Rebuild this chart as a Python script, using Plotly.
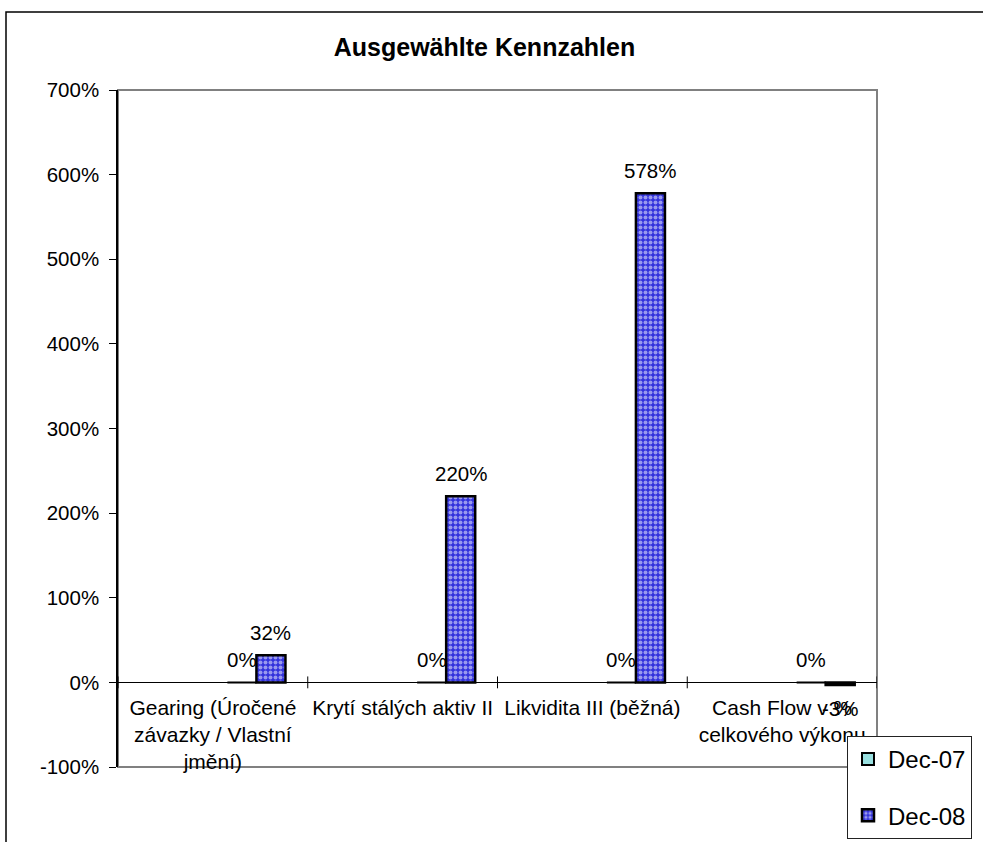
import plotly.graph_objects as go

categories = ["Gearing (Úročené závazky / Vlastní jmění)", "Krytí stálých aktiv II",
              "Likvidita III (běžná)", "Cash Flow v % celkového výkonu"]
tick_text = ["Gearing (Úročené<br>závazky / Vlastní<br>jmění)", "Krytí stálých aktiv II",
             "Likvidita III (běžná)", "Cash Flow v %<br>celkového výkonu"]
dec07 = [0.0, 0.0, 0.0, 0.0]
dec08 = [0.32, 2.20, 5.78, -0.03]
series_names = ["Dec-07", "Dec-08"]
y_ticks = [-1, 0, 1, 2, 3, 4, 5, 6, 7]
y_tick_text = [f"{v * 100}%" for v in y_ticks]

W, H = 983, 842
L, T = 118, 90
R = W - 877
B = H - 767
pw, ph = W - L - R, H - T - B

FONT = "Liberation Sans, Arial, sans-serif"
bw = 0.153  # bar width in category units
idx = list(range(len(categories)))

fig = go.Figure()
fig.add_trace(go.Bar(
    x=idx, y=dec07, name=series_names[0], width=bw, offset=0.5 * bw,
    marker=dict(color="#99e0e0", line=dict(color="black", width=2)),
    legendgroup="a",
))
fig.add_trace(go.Bar(
    x=idx, y=dec08, name=series_names[1], width=bw, offset=1.5 * bw,
    marker=dict(color="#3232dc", line=dict(color="black", width=2.5),
                pattern=dict(shape=".", fgcolor="white",
                             size=5, solidity=0.5, fillmode="overlay")),
    legendgroup="b",
))

# data labels
for vals, c in ((dec07, 1.0 * bw), (dec08, 2.0 * bw)):
    for i, v in enumerate(vals):
        fig.add_annotation(x=i + c, y=v, text=f"{round(v * 100):.0f}%", showarrow=False,
                           yshift=23 if v >= 0 else -24,
                           font=dict(family=FONT, size=20.5, color="black"))

# plot area frame
fig.add_shape(type="rect", xref="paper", yref="paper", x0=0, x1=1, y0=0, y1=1,
              line=dict(color="#808080", width=2), layer="below")
# outer chart border
fig.add_shape(type="rect", xref="paper", yref="paper",
              x0=(6 - L) / pw, x1=(1000 - L) / pw,
              y0=-(900 - (H - B)) / ph, y1=((H - B) - 12) / ph,
              line=dict(color="black", width=1.5), layer="below")

fig.update_layout(
    width=W, height=H,
    margin=dict(l=L, r=R, t=T, b=B, autoexpand=False),
    paper_bgcolor="white", plot_bgcolor="white",
    font=dict(family=FONT, size=20, color="black"),
    title=dict(text="<b>Ausgewählte Kennzahlen</b>", x=484.5 / W, xref="container",
               xanchor="center", y=1 - 47 / H, yanchor="middle",
               font=dict(family=FONT, size=25, color="black")),
    barmode="overlay",
    showlegend=True,
    legend=dict(x=(847 - L) / pw, y=((H - B) - 736) / ph, xanchor="left", yanchor="top",
                bgcolor="white", bordercolor="#222222", borderwidth=1,
                font=dict(family=FONT, size=24, color="black"),
                tracegroupgap=22, traceorder="grouped", itemwidth=30),
    xaxis=dict(type="linear", range=[-0.5, 3.5], tickvals=idx, ticktext=tick_text,
               showgrid=False, zeroline=False, showline=True, linecolor="black", linewidth=1,
               ticks="", anchor="free", position=1 / 8, automargin=False,
               ticklabelstandoff=6,
               tickfont=dict(family=FONT, size=21, color="black")),
    yaxis=dict(range=[-1, 7], tickvals=y_ticks, ticktext=y_tick_text, showgrid=False,
               zeroline=False, showline=True, linecolor="black", linewidth=1.5,
               ticks="outside", ticklen=7, tickwidth=1, tickcolor="black", automargin=False,
               ticklabelstandoff=6,
               tickfont=dict(family=FONT, size=20.5, color="black")),
)

# boundary tick marks on category axis
for b in [-0.5, 0.5, 1.5, 2.5, 3.5]:
    fig.add_shape(type="line", xref="x", yref="y", x0=b, x1=b, y0=-0.07, y1=0.07,
                  line=dict(color="black", width=1))

fig.write_html("out.html", config={"displayModeBar": False},
               post_script="document.body.style.margin='0';document.body.style.overflow='hidden';")
